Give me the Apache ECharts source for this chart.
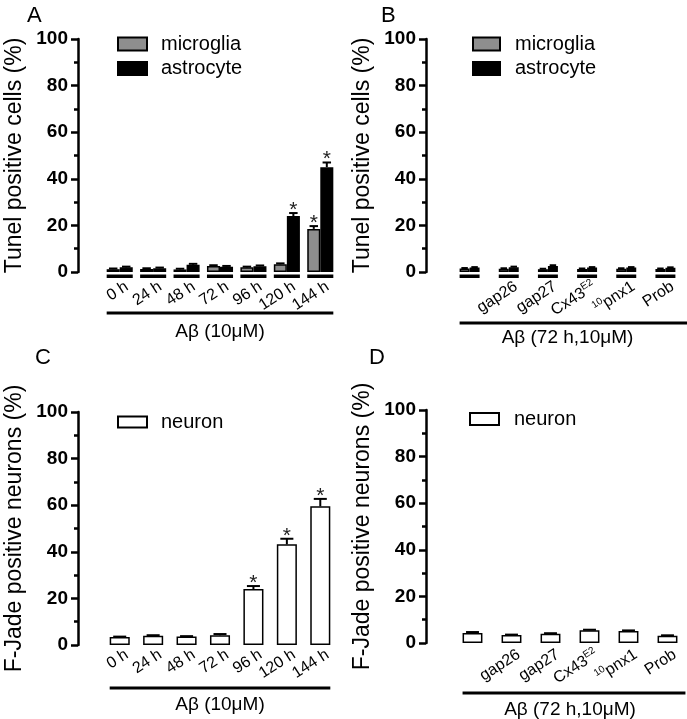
<!DOCTYPE html>
<html><head><meta charset="utf-8">
<script src="https://cdn.jsdelivr.net/npm/echarts@6/dist/echarts.min.js"></script>
<style>html,body{margin:0;padding:0;background:#fff}#c{width:687px;height:719px}</style>
</head><body><div id="c"></div>
<script>
// ---------- data ----------
const timeCats = ['0 h', '24 h', '48 h', '72 h', '96 h', '120 h', '144 h'];
const treatCats = ['', 'gap26', 'gap27', 'Cx43E2', '10pnx1', 'Prob'];
const yMin = 0, yMax = 100, yStep = 20;

const aMicroglia    = [1.2, 1.3, 1.1, 2.6, 2.0, 3.3, 18.5];
const aMicrogliaErr = [0.3, 0.3, 0.3, 0.3, 0.3, 0.4, 1.2];
const aMicrogliaSig = [0, 0, 0, 0, 0, 0, 1];
const aAstrocyte    = [2.0, 1.6, 3.1, 2.3, 2.5, 24.0, 45.0];
const aAstrocyteErr = [0.3, 0.3, 0.4, 0.3, 0.3, 1.3, 2.0];
const aAstrocyteSig = [0, 0, 0, 0, 0, 1, 1];

const bMicroglia    = [1.5, 1.4, 1.2, 1.3, 1.4, 1.3];
const bMicrogliaErr = [0.2, 0.2, 0.2, 0.2, 0.2, 0.2];
const bAstrocyte    = [1.9, 2.0, 2.6, 1.9, 1.9, 1.8];
const bAstrocyteErr = [0.2, 0.3, 0.3, 0.2, 0.2, 0.2];
const noSig6 = [0, 0, 0, 0, 0, 0];

const cNeuron    = [3.4, 4.0, 3.6, 4.2, 24.0, 43.2, 59.5];
const cNeuronErr = [0.2, 0.2, 0.2, 0.5, 1.3, 2.4, 3.2];
const cNeuronSig = [0, 0, 0, 0, 1, 1, 1];

const dNeuron    = [4.3, 3.4, 4.0, 5.5, 5.2, 3.1];
const dNeuronErr = [0.4, 0.2, 0.2, 0.2, 0.2, 0.2];

const panelLetters = ['A', 'B', 'C', 'D'];
const yNameTop = 'Tunel positive cells (%)';
const yNameBottom = 'F-Jade positive neurons (%)';
const xNameTime = 'Aβ (10μM)';
const xNameTreat = 'Aβ (72 h,10μM)';

// ---------- styling ----------
const F = 'Liberation Sans, Arial, Helvetica, sans-serif';
const GRAY = '#8e8e8e';

function yAx(gi, name, offset) {
  return {
    type: 'value', gridIndex: gi, min: yMin, max: yMax, interval: yStep, offset: offset,
    name: name, nameLocation: 'middle', nameGap: 52,
    nameTextStyle: { fontSize: 23, color: '#000', fontFamily: F },
    axisLine: { show: true, lineStyle: { color: '#000', width: 2.5 } },
    axisTick: { show: true, inside: false, length: 7, lineStyle: { color: '#000', width: 2.5 } },
    minorTick: { show: true, splitNumber: 2, length: 4, lineStyle: { color: '#000', width: 2.5 } },
    splitLine: { show: false },
    axisLabel: { fontSize: 19, fontWeight: 'bold', color: '#000', margin: 10, fontFamily: F }
  };
}
const richMap = { 'Cx43E2': '{b|Cx43}{s|E2}', '10pnx1': '{s|10}{b|pnx1}' };
function xAx(gi, cats, name, nameGap, margin) {
  return {
    type: 'category', gridIndex: gi, data: cats,
    name: name, nameLocation: 'middle', nameGap: nameGap,
    nameTextStyle: { fontSize: 19, color: '#000', fontFamily: F },
    axisLine: { show: false }, axisTick: { show: false }, splitLine: { show: false },
    axisLabel: {
      rotate: 33, fontSize: 16, color: '#000', margin: margin, interval: 0, fontFamily: F,
      padding: [8, -6, 0, 0],
      formatter: function (v) { return richMap[v] || v; },
      rich: {
        b: { fontSize: 16, color: '#000', fontFamily: F },
        s: { fontSize: 10, color: '#000', fontFamily: F, padding: [0, 0, 9, 0] }
      }
    }
  };
}

function barSeries(name, gi, data, color, gap) {
  return {
    type: 'bar', name: name, xAxisIndex: gi, yAxisIndex: gi, data: data,
    barGap: '0%', barCategoryGap: gap, z: 2,
    itemStyle: { color: color, borderColor: '#000', borderWidth: 1.5 },
    emphasis: { disabled: true }, silent: true
  };
}

// error bars + significance stars for one bar series within a group
function errSeries(gi, vals, errs, sigs, nBars, idx, gapFrac) {
  return {
    type: 'custom', xAxisIndex: gi, yAxisIndex: gi, z: 3, silent: true, clip: false,
    data: vals.map(function (v, i) { return [i, v, errs[i], sigs[i]]; }),
    renderItem: function (params, api) {
      const i = api.value(0), v = api.value(1), e = api.value(2), s = api.value(3);
      const band = api.size([1, 0])[0];
      const gw = band * (1 - gapFrac);
      const bw = gw / nBars;
      const c = api.coord([i, v]);
      const x = c[0] - gw / 2 + bw * (idx + 0.5);
      const top = api.coord([i, v + e])[1];
      const cap = bw * 0.65;
      const ch = [
        { type: 'line', shape: { x1: x, y1: c[1], x2: x, y2: top }, style: { stroke: '#000', lineWidth: 2 } },
        { type: 'line', shape: { x1: x - cap / 2, y1: top, x2: x + cap / 2, y2: top }, style: { stroke: '#000', lineWidth: 2 } }
      ];
      if (s) {
        ch.push({ type: 'text', style: { text: '*', x: x, y: top - 3, align: 'center', verticalAlign: 'middle',
          font: '21px ' + F, fill: '#222' } });
      }
      return { type: 'group', children: ch };
    }
  };
}

// broken baseline segments under each group (panels A, B)
function segSeries(gi, cats, gapFrac) {
  return {
    type: 'custom', xAxisIndex: gi, yAxisIndex: gi, z: 3, silent: true, clip: false,
    data: cats.map(function (c, i) { return [i, 0]; }),
    renderItem: function (params, api) {
      const band = api.size([1, 0])[0];
      const gw = band * (1 - gapFrac);
      const c = api.coord([api.value(0), 0]);
      return { type: 'rect', shape: { x: c[0] - gw / 2, y: c[1] + 2.5, width: gw, height: 3.5 }, style: { fill: '#000' } };
    }
  };
}

// long bracket line under the category labels
function bracketSeries(gi, cats, gapFrac, off, extraRight) {
  const n = cats.length;
  return {
    type: 'custom', xAxisIndex: gi, yAxisIndex: gi, z: 3, silent: true, clip: false,
    data: [[0, 0]],
    renderItem: function (params, api) {
      const band = api.size([1, 0])[0];
      const gw = band * (1 - gapFrac);
      const a = api.coord([0, 0]);
      const b = api.coord([n - 1, 0]);
      return { type: 'line', shape: { x1: a[0] - gw / 2, y1: a[1] + off, x2: b[0] + gw / 2 + extraRight, y2: a[1] + off },
        style: { stroke: '#000', lineWidth: 3 } };
    }
  };
}

const gapA = 0.22, gapB = 0.49, gapC = 0.40, gapD = 0.49;

const chart = echarts.init(document.getElementById('c'), null, { renderer: 'canvas' });
chart.setOption({
  animation: false,
  backgroundColor: '#fff',
  textStyle: { fontFamily: F },
  title: [
    { text: panelLetters[0], left: 22, top: 0, textStyle: { fontSize: 22, fontWeight: 'normal', color: '#000', fontFamily: F } },
    { text: panelLetters[1], left: 376, top: 0, textStyle: { fontSize: 22, fontWeight: 'normal', color: '#000', fontFamily: F } },
    { text: panelLetters[2], left: 30, top: 342, textStyle: { fontSize: 22, fontWeight: 'normal', color: '#000', fontFamily: F } },
    { text: panelLetters[3], left: 364, top: 342, textStyle: { fontSize: 22, fontWeight: 'normal', color: '#000', fontFamily: F } }
  ],
  legend: [
    { data: ['microglia', 'astrocyte'], orient: 'vertical', left: 112, top: 29, itemWidth: 29, itemHeight: 13, itemGap: 4.5,
      icon: 'rect', selectedMode: false, textStyle: { fontSize: 20, lineHeight: 20, color: '#000', fontFamily: F, padding: [0, 0, 0, 9] } },
    { data: ['microglia', 'astrocyte'], orient: 'vertical', left: 467, top: 29, itemWidth: 27, itemHeight: 13, itemGap: 4.5,
      icon: 'rect', selectedMode: false, textStyle: { fontSize: 20, lineHeight: 20, color: '#000', fontFamily: F, padding: [0, 0, 0, 10] } },
    { data: ['neuron'], orient: 'vertical', left: 112, top: 407, itemWidth: 29, itemHeight: 11,
      icon: 'rect', selectedMode: false, textStyle: { fontSize: 20, lineHeight: 20, color: '#000', fontFamily: F, padding: [0, 0, 0, 9] } },
    { data: ['neuron'], orient: 'vertical', left: 464, top: 404, itemWidth: 29, itemHeight: 12,
      icon: 'rect', selectedMode: false, textStyle: { fontSize: 20, lineHeight: 20, color: '#000', fontFamily: F, padding: [0, 0, 0, 10] } }
  ],
  grid: [
    { left: 103, top: 39, width: 234, height: 233, outerBoundsMode: 'none' },
    { left: 450, top: 39, width: 235, height: 233, outerBoundsMode: 'none' },
    { left: 103, top: 412, width: 234, height: 233, outerBoundsMode: 'none' },
    { left: 453, top: 410, width: 234, height: 233, outerBoundsMode: 'none' }
  ],
  xAxis: [
    xAx(0, timeCats, xNameTime, 50, 13),
    xAx(1, treatCats, xNameTreat, 56, 13),
    xAx(2, timeCats, xNameTime, 50, 8),
    xAx(3, treatCats, xNameTreat, 57, 10)
  ],
  yAxis: [
    yAx(0, yNameTop, 25),
    yAx(1, yNameTop, 24),
    yAx(2, yNameBottom, 25),
    yAx(3, yNameBottom, 27)
  ],
  series: [
    barSeries('microglia', 0, aMicroglia, GRAY, (gapA * 100) + '%'),
    barSeries('astrocyte', 0, aAstrocyte, '#000', (gapA * 100) + '%'),
    errSeries(0, aMicroglia, aMicrogliaErr, aMicrogliaSig, 2, 0, gapA),
    errSeries(0, aAstrocyte, aAstrocyteErr, aAstrocyteSig, 2, 1, gapA),
    segSeries(0, timeCats, gapA),
    bracketSeries(0, timeCats, gapA, 41, 0),

    barSeries('microglia', 1, bMicroglia, GRAY, (gapB * 100) + '%'),
    barSeries('astrocyte', 1, bAstrocyte, '#000', (gapB * 100) + '%'),
    errSeries(1, bMicroglia, bMicrogliaErr, noSig6, 2, 0, gapB),
    errSeries(1, bAstrocyte, bAstrocyteErr, noSig6, 2, 1, gapB),
    segSeries(1, treatCats, gapB),
    bracketSeries(1, treatCats, gapB, 51, 12),

    barSeries('neuron', 2, cNeuron, '#fff', (gapC * 100) + '%'),
    errSeries(2, cNeuron, cNeuronErr, cNeuronSig, 1, 0, gapC),
    bracketSeries(2, timeCats, gapC, 43, 0),

    barSeries('neuron', 3, dNeuron, '#fff', (gapD * 100) + '%'),
    errSeries(3, dNeuron, dNeuronErr, noSig6, 1, 0, gapD),
    bracketSeries(3, treatCats, gapD, 50, 8)
  ]
});
</script>
</body></html>
